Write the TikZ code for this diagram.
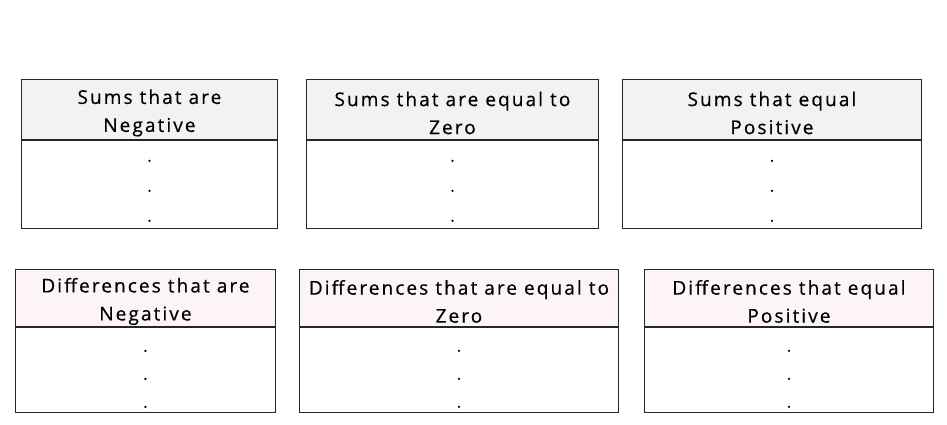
\documentclass[tikz,border=0pt]{standalone}
\usepackage{fontspec}
\setmainfont[LetterSpace=11,FakeBold=0.5]{Open Sans}
\usetikzlibrary{positioning}
\definecolor{sumgray}{RGB}{242,242,242}
\definecolor{diffpink}{RGB}{253,245,245}
\tikzset{
	head/.style={draw=black!85, line width=0.9pt, fill=#1, inner sep=0pt},
	title/.style={align=center, inner sep=0pt, font=\fontsize{19}{28}\selectfont},
	body/.style={draw=black!85, line width=0.9pt, fill=white, inner sep=0pt},
	dot/.style={circle, fill=black, inner sep=0pt, minimum size=2.6pt}
}

\begin{document}
\begin{tikzpicture}[x=1pt,y=-1pt]
		\useasboundingbox[fill=white] (0,0) rectangle (947,425);
		% Sums row
		\foreach \name/\x/\w/\txt in {sneg/21/256/{Sums that are\\Negative},
				szero/306/292/{Sums that are equal to\\Zero},
				spos/622/299/{Sums that equal\\Positive}}{
				\node[head=sumgray, anchor=north west, minimum width=\w pt, minimum height=60pt]
					(\name) at (\x,79) {};
				\node[title] (\name t) at ([yshift=-3.5pt]\name.center) {\txt};
				\node[body, below=0pt of \name, minimum width=\w pt, minimum height=88.5pt] (\name b) {};
				\node[dot] (\name d1) at ([yshift=-21pt]\name b.north) {};
				\node[dot] (\name d2) at ([yshift=-51pt]\name b.north) {};
				\node[dot] (\name d3) at ([yshift=-81pt]\name b.north) {};
			}
		% Differences row
		\foreach \name/\x/\w/\txt in {dneg/15/260/{Differences that are\\Negative},
				dzero/299/319/{Differences that are equal to\\Zero},
				dpos/644/289/{Differences that equal\\Positive}}{
				\node[head=diffpink, anchor=north west, minimum width=\w pt, minimum height=57pt]
					(\name) at (\x,269) {};
				\node[title] (\name t) at ([yshift=-3.5pt]\name.center) {\txt};
				\node[body, below=0pt of \name, minimum width=\w pt, minimum height=85pt] (\name b) {};
				\node[dot] (\name d1) at ([yshift=-24pt]\name b.north) {};
				\node[dot] (\name d2) at ([yshift=-52pt]\name b.north) {};
				\node[dot] (\name d3) at ([yshift=-80pt]\name b.north) {};
			}
	\end{tikzpicture}
\end{document}
